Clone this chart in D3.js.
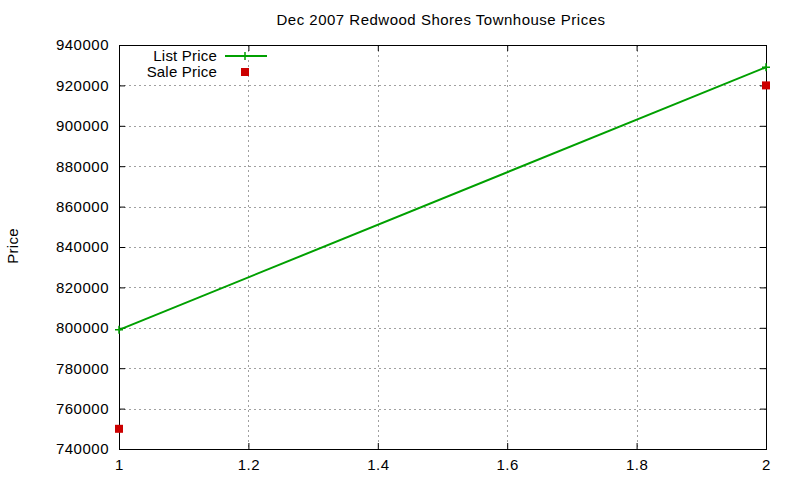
<!DOCTYPE html>
<html>
<head>
<meta charset="utf-8">
<script src="https://cdn.jsdelivr.net/npm/d3@7"></script>
<style>
  body { margin: 0; background: #fff; }
  text { font-family: "Liberation Sans", Arial, sans-serif; fill: #000; }
</style>
</head>
<body>
<div id="chart"></div>
<script>
var title = "Dec 2007 Redwood Shores Townhouse Prices";
var xValues = [1, 2];
var listPrice = [799000, 929000];
var salePrice = [750000, 920000];
var xTicks = [1, 1.2, 1.4, 1.6, 1.8, 2];
var yTicks = [740000, 760000, 780000, 800000, 820000, 840000, 860000, 880000, 900000, 920000, 940000];

var width = 800, height = 480;
var margin = {top: 45, right: 34, bottom: 31, left: 119};
var w = width - margin.left - margin.right,
    h = height - margin.top - margin.bottom;

var x = d3.scaleLinear().domain([1, 2]).range([0, w]);
var y = d3.scaleLinear().domain([740000, 940000]).range([h, 0]);

var svg = d3.select("#chart").append("svg")
    .attr("width", width)
    .attr("height", height);

var g = svg.append("g")
    .attr("transform", "translate(" + margin.left + "," + margin.top + ")");

// grid
g.selectAll(".hgrid")
    .data(yTicks.slice(1, -1))
    .enter().append("line")
    .attr("x1", 0).attr("x2", w)
    .attr("y1", function(d) { return Math.round(y(d)) + 0.5; })
    .attr("y2", function(d) { return Math.round(y(d)) + 0.5; })
    .attr("stroke", "#a0a0a0").attr("stroke-dasharray", "2,3");

g.selectAll(".vgrid")
    .data(xTicks.slice(1, -1))
    .enter().append("line")
    .attr("y1", 0).attr("y2", h)
    .attr("x1", function(d) { return Math.round(x(d)) + 0.5; })
    .attr("x2", function(d) { return Math.round(x(d)) + 0.5; })
    .attr("stroke", "#a0a0a0").attr("stroke-dasharray", "2,3");

// axes, ticks pointing inward, mirrored
var fmt = d3.format("d");
var yLeft = d3.axisLeft(y).tickValues(yTicks).tickSizeInner(-6).tickSizeOuter(0).tickPadding(10).tickFormat(fmt);
var yRight = d3.axisRight(y).tickValues(yTicks).tickSizeInner(-6).tickSizeOuter(0).tickFormat("");
var xBottom = d3.axisBottom(x).tickValues(xTicks).tickSizeInner(-6).tickSizeOuter(0).tickPadding(10).tickFormat(d3.format("~g"));
var xTop = d3.axisTop(x).tickValues(xTicks).tickSizeInner(-6).tickSizeOuter(0).tickFormat("");

function styleAxis(sel) {
    sel.select(".domain").remove();
    sel.selectAll("line").attr("stroke", "#000");
    sel.selectAll("text").style("font-size", "15px").style("letter-spacing", "0.5px").attr("fill", "#000");
}

g.append("g").call(yLeft).call(styleAxis);
g.append("g").attr("transform", "translate(" + w + ",0)").call(yRight).call(styleAxis);
g.append("g").attr("transform", "translate(0," + h + ")").call(xBottom).call(styleAxis);
g.append("g").call(xTop).call(styleAxis);

g.append("rect")
    .attr("x", 0.5).attr("y", 0.5)
    .attr("width", w).attr("height", h)
    .attr("fill", "none").attr("stroke", "#000");

// series
var listData = xValues.map(function(d, i) { return [d, listPrice[i]]; });
var saleData = xValues.map(function(d, i) { return [d, salePrice[i]]; });

g.append("path")
    .datum(listData)
    .attr("fill", "none")
    .attr("stroke", "#00a000")
    .attr("stroke-width", 2)
    .attr("d", d3.line().x(function(d) { return x(d[0]); }).y(function(d) { return y(d[1]); }));

g.selectAll(".plus")
    .data(listData)
    .enter().append("path")
    .attr("d", function(d) {
        var cx = x(d[0]), cy = y(d[1]);
        return "M" + (cx - 4) + "," + cy + "H" + (cx + 4) + "M" + cx + "," + (cy - 4) + "V" + (cy + 4);
    })
    .attr("stroke", "#00a000").attr("stroke-width", 1.5);

g.selectAll(".sq")
    .data(saleData)
    .enter().append("rect")
    .attr("x", function(d) { return x(d[0]) - 4; })
    .attr("y", function(d) { return y(d[1]) - 4; })
    .attr("width", 8).attr("height", 8)
    .attr("fill", "#cc0000");

// legend
var legend = svg.append("g").attr("transform", "translate(217,0)");
legend.append("text").attr("x", 0).attr("y", 61).attr("text-anchor", "end")
    .style("font-size", "15px").style("letter-spacing", "0.2px").text("List Price");
legend.append("line").attr("x1", 8).attr("x2", 50).attr("y1", 56).attr("y2", 56)
    .attr("stroke", "#00a000").attr("stroke-width", 2);
legend.append("path").attr("d", "M24,56H32M28,52V60").attr("stroke", "#00a000").attr("stroke-width", 1.5);
legend.append("text").attr("x", 0).attr("y", 77).attr("text-anchor", "end")
    .style("font-size", "15px").style("letter-spacing", "0.2px").text("Sale Price");
legend.append("rect").attr("x", 24).attr("y", 68).attr("width", 8).attr("height", 8).attr("fill", "#cc0000");

// title and y label
svg.append("text").attr("x", 441).attr("y", 25).attr("text-anchor", "middle")
    .style("font-size", "15px").style("letter-spacing", "0.5px").text(title);

svg.append("text")
    .attr("transform", "translate(18,246) rotate(-90)")
    .attr("text-anchor", "middle")
    .style("font-size", "15px").style("letter-spacing", "0.3px").text("Price");
</script>
</body>
</html>
